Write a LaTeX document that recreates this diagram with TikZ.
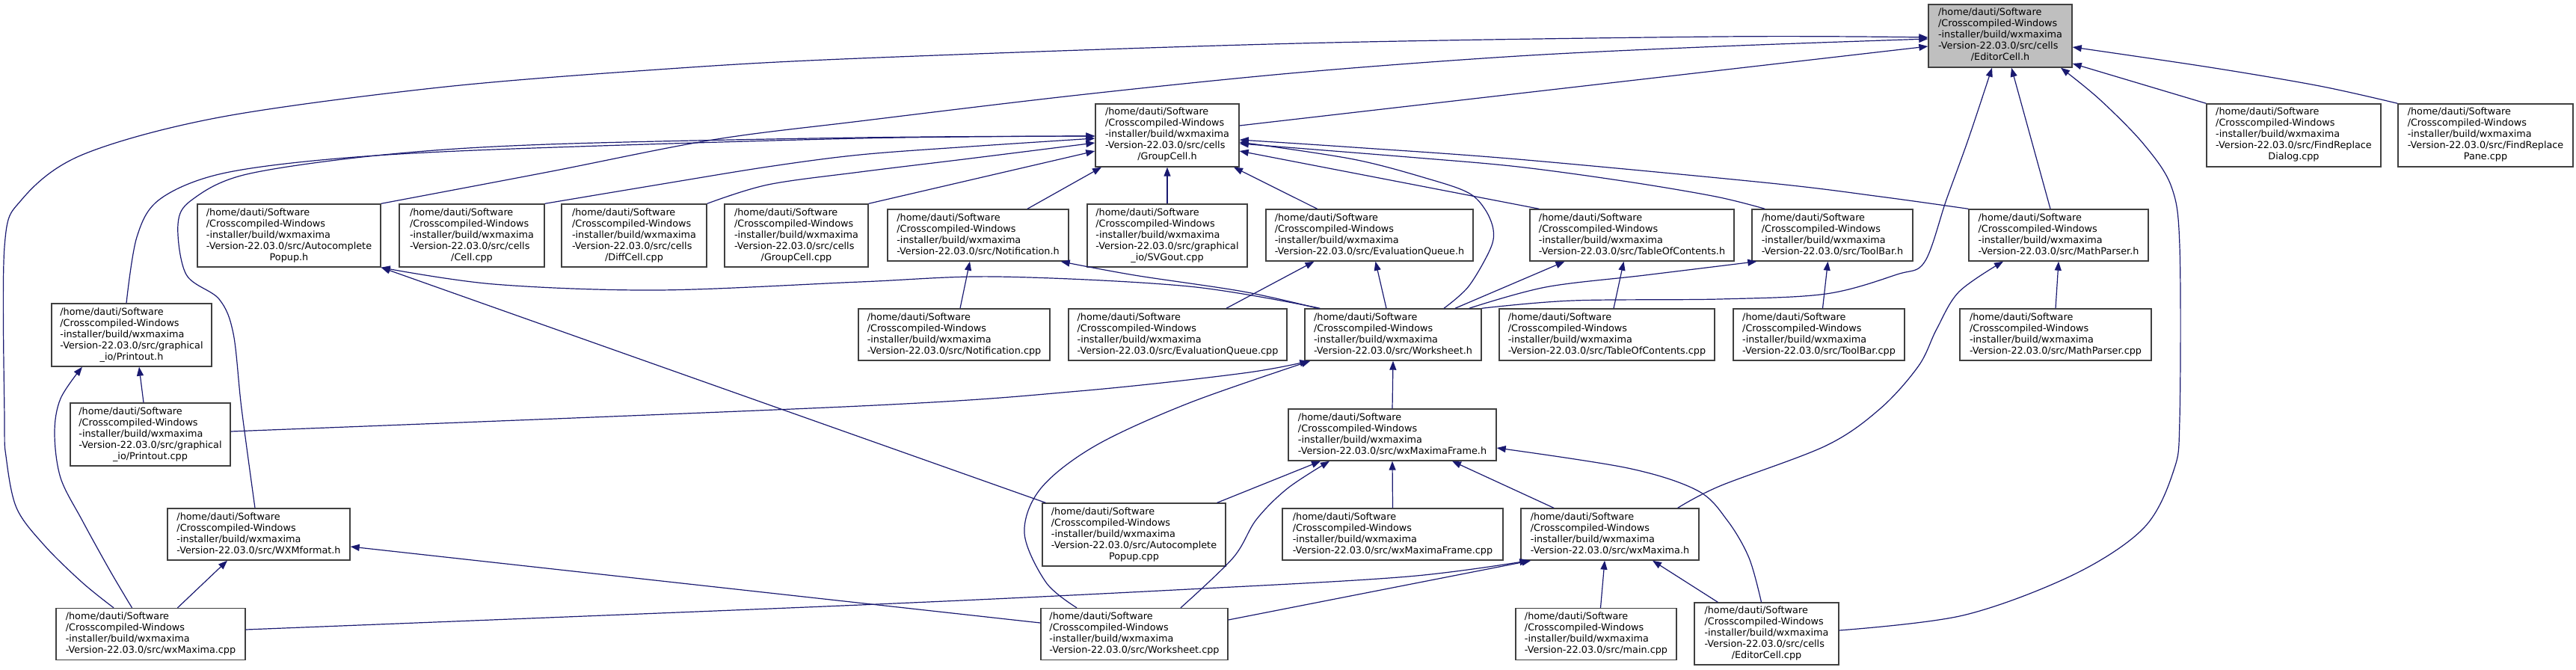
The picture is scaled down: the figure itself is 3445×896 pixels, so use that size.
\documentclass[tikz,border=0pt]{standalone}
\usepackage{fontspec}
\setmainfont{DejaVu Sans}
\usetikzlibrary{arrows.meta}
\definecolor{edgeblue}{HTML}{191970}
\definecolor{boxline}{HTML}{404040}
\definecolor{rootfill}{HTML}{BFBFBF}
\newcommand{\fourline}[1]{\begin{tabular}{@{}l@{}}/home/dauti/Software\\/Crosscompiled-Windows\\-installer/build/wxmaxima\\-Version-22.03.0/src/#1\end{tabular}}
\newcommand{\fiveline}[2]{\begin{tabular}{@{}l@{}}/home/dauti/Software\\/Crosscompiled-Windows\\-installer/build/wxmaxima\\-Version-22.03.0/src/#1\\\multicolumn{1}{@{}c@{}}{#2}\end{tabular}}
\begin{document}
\begin{tikzpicture}[x=1pt,y=-1pt,
  file/.style={draw=boxline,line width=1.4pt,fill=white,inner sep=0pt,
    font=\fontsize{12.8}{15}\selectfont},
  four/.style={file,minimum height=69pt},
  five/.style={file,minimum height=84pt},
  incl/.style={draw=edgeblue,line width=1.2pt,-{Triangle[length=12pt,width=9pt]}},
  curve/.style={smooth,tension=0.55}]
  \useasboundingbox (0,0) rectangle (3445,896);

  % top row
  \node[five,fill=rootfill,minimum width=192pt] (edh) at (2675,48) {\fiveline{cells}{/EditorCell.h}};
  \node[five,minimum width=233pt] (frd) at (3067.5,181) {\fiveline{FindReplace}{Dialog.cpp}};
  \node[five,minimum width=234pt] (frp) at (3324,181) {\fiveline{FindReplace}{Pane.cpp}};
  \node[five,minimum width=192pt] (gch) at (1561,181) {\fiveline{cells}{/GroupCell.h}};

  % second row
  \node[five,minimum width=245pt] (acph) at (386.5,315) {\fiveline{Autocomplete}{Popup.h}};
  \node[five,minimum width=194pt] (cellcpp) at (631,315) {\fiveline{cells}{/Cell.cpp}};
  \node[five,minimum width=194pt] (diffcpp) at (848,315) {\fiveline{cells}{/DiffCell.cpp}};
  \node[five,minimum width=192pt] (gccpp) at (1065,315) {\fiveline{cells}{/GroupCell.cpp}};
  \node[four,minimum width=242pt] (noth) at (1308,314.5) {\fourline{Notification.h}};
  \node[five,minimum width=214pt] (svgcpp) at (1561,315) {\fiveline{graphical}{\_io/SVGout.cpp}};
  \node[four,minimum width=277pt] (evqh) at (1831.5,314.5) {\fourline{EvaluationQueue.h}};
  \node[four,minimum width=273pt] (toch) at (2182.5,314.5) {\fourline{TableOfContents.h}};
  \node[four,minimum width=215pt] (tbh) at (2450.5,314.5) {\fourline{ToolBar.h}};
  \node[four,minimum width=240pt] (mph) at (2753,314.5) {\fourline{MathParser.h}};

  % third row
  \node[five,minimum width=214pt] (printh) at (176,448) {\fiveline{graphical}{\_io/Printout.h}};
  \node[four,minimum width=256pt] (notcpp) at (1276,447.5) {\fourline{Notification.cpp}};
  \node[four,minimum width=292pt] (evqcpp) at (1575,447.5) {\fourline{EvaluationQueue.cpp}};
  \node[four,minimum width=236pt] (wsh) at (1863,447.5) {\fourline{Worksheet.h}};
  \node[four,minimum width=288pt] (toccpp) at (2149,447.5) {\fourline{TableOfContents.cpp}};
  \node[four,minimum width=229pt] (tbcpp) at (2432.5,447.5) {\fourline{ToolBar.cpp}};
  \node[four,minimum width=256pt] (mpcpp) at (2749,447.5) {\fourline{MathParser.cpp}};

  % lower rows
  \node[five,minimum width=214pt] (printcpp) at (201,581) {\fiveline{graphical}{\_io/Printout.cpp}};
  \node[four,minimum width=278pt] (wxfh) at (1862,581.5) {\fourline{wxMaximaFrame.h}};
  \node[four,minimum width=244pt] (wxmfh) at (346,714.5) {\fourline{WXMformat.h}};
  \node[five,minimum width=245pt] (acpcpp) at (1516.5,715) {\fiveline{Autocomplete}{Popup.cpp}};
  \node[four,minimum width=295pt] (wxfcpp) at (1862.5,714.5) {\fourline{wxMaximaFrame.cpp}};
  \node[four,minimum width=238pt] (wxmh) at (2153,714.5) {\fourline{wxMaxima.h}};
  \node[four,minimum width=253pt] (wxmcpp) at (201.5,848) {\fourline{wxMaxima.cpp}};
  \node[four,minimum width=250pt] (wscpp) at (1517,848) {\fourline{Worksheet.cpp}};
  \node[four,minimum width=215pt] (maincpp) at (2134.5,848) {\fourline{main.cpp}};
  \node[five,minimum width=193pt,minimum height=83pt] (edcpp) at (2362.5,847.5) {\fiveline{cells}{/EditorCell.cpp}};

  % includes of EditorCell.h
  \draw[incl] plot[curve] coordinates {([xshift=-49.5pt]wxmcpp.north) (110,779) (59,729) (22,679) (8,610) (6,560) (6,330) (29,267) (110,207) (293,157) (587,117) (880,93) (1150,78) (1737,58) (2300,49) ([yshift=-2pt]edh.west)};
  \draw[incl] plot[curve] coordinates {(acph.north east) (733,230) (953,187) (1150,162) (1443,127) (1737,97) (2030,75) (2300,62) ([yshift=-4pt]edh.west)};
  \draw[incl] ([yshift=13pt]gch.east) -- ([yshift=-14pt]edh.west);
  \draw[incl] plot[curve] coordinates {(wsh.north east) (2103,402) (2300,400) (2442,393) (2537,367) (2574,350) (2603,267) (2632,187) ([xshift=-11pt]edh.south)};
  \draw[incl] ([xshift=-11pt]mph.north) -- ([xshift=15pt]edh.south);
  \draw[incl] plot[curve] coordinates {([yshift=4.5pt]edcpp.east) (2625,823) (2772,769) (2867,706) (2907,629) (2915,560) (2915,330) (2904,250) (2867,193) (2808,133) ([xshift=81pt]edh.south)};
  \draw[incl] (frd.north west) -- ([yshift=-37pt]edh.east);
  \draw[incl] plot[curve] coordinates {(frp.north west) (3102,115) (2955,90) ([yshift=-15pt]edh.east)};

  % includes of GroupCell.h
  \draw[incl] plot[curve] coordinates {([xshift=-7pt]printh.north) (183,317) (213,267) (293,233) (440,213) (660,200) (1150,185) ([yshift=-1pt]gch.west)};
  \draw[incl] plot[curve] coordinates {([xshift=-5pt]wxmfh.north) (323,546) (312,446) (293,400) (249,367) (238,300) (257,267) (330,233) (513,207) (733,193) (1150,184) ([yshift=-1pt]gch.west)};
  \draw[incl] plot[curve] coordinates {(cellcpp.north east) (880,247) (1027,223) (1150,207) (1297,196) ([yshift=-4pt]gch.west)};
  \draw[incl] plot[curve] coordinates {(diffcpp.north east) (1027,247) (1150,230) (1297,212) ([yshift=-10pt]gch.west)};
  \draw[incl] (gccpp.north east) -- ([yshift=-21pt]gch.west);
  \draw[incl] ([xshift=66pt]noth.north) -- ([xshift=-88pt]gch.south);
  \draw[incl] (svgcpp.north) -- (gch.south);
  \draw[incl] ([xshift=-70pt]evqh.north) -- ([xshift=89pt]gch.south);
  \draw[incl] plot[curve] coordinates {(mph.north west) (2515,263) (2368,245) (2030,213) (1810,197) ([yshift=-6pt]gch.east)};
  \draw[incl] plot[curve] coordinates {([xshift=18pt]tbh.north west) (2295,263) (2177,243) (2030,223) (1883,210) ([yshift=-11pt]gch.east)};
  \draw[incl] ([xshift=13pt]toch.north west) -- ([yshift=-21pt]gch.east);
  \draw[incl] plot[curve] coordinates {([xshift=68pt]wsh.north) (1964,383) (1993,333) (1997,307) (1986,280) (1964,258) (1913,240) (1810,213) ([yshift=-9pt]gch.east)};

  % includes of Worksheet.h
  \draw[incl] plot[curve] coordinates {([xshift=21pt]wsh.north west) (1590,383) (1333,370) (1150,377) (880,388) (660,380) (acph.south east)};
  \draw[incl] plot[curve] coordinates {([xshift=18pt]wsh.north west) (1663,390) (1517,368) ([xshift=-11pt]noth.south east)};
  \draw[incl] ([xshift=-9pt]wsh.north) -- ([xshift=8pt]evqh.south);
  \draw[incl] ([xshift=83pt]wsh.north) -- ([xshift=-90pt]toch.south);
  \draw[incl] plot[curve] coordinates {([xshift=-17pt]wsh.north east) (2067,384) (2200,368) ([xshift=7pt]tbh.south west)};

  % sources and their headers
  \draw[incl] ([xshift=8pt]notcpp.north) -- ([xshift=-11pt]noth.south);
  \draw[incl] ([xshift=65pt]evqcpp.north) -- ([xshift=-74pt]evqh.south);
  \draw[incl] ([xshift=9pt]toccpp.north) -- ([xshift=-11pt]toch.south);
  \draw[incl] ([xshift=5pt]tbcpp.north) -- ([xshift=-6pt]tbh.south);
  \draw[incl] (mpcpp.north) -- (mph.south);
  \draw[incl] plot[curve] coordinates {([xshift=-29pt]wxmh.north east) (2300,650) (2442,596) (2515,546) (2566,489) (2590,440) (2620,390) ([xshift=-74pt]mph.south)};
  \draw[incl] ([xshift=-9pt]printcpp.north) -- ([xshift=10pt]printh.south);
  \draw[incl] plot[curve] coordinates {([xshift=-25pt]wxmcpp.north) (147,763) (110,696) (81,639) (73,579) (81,533) ([xshift=-66pt]printh.south)};
  \draw[incl] ([xshift=36pt]wxmcpp.north) -- ([xshift=-42pt]wxmfh.south);
  \draw[incl] plot[curve] coordinates {([yshift=4pt]printcpp.east) (1150,543) (1443,523) (1663,499) ([xshift=6pt]wsh.south west)};
  \draw[incl] ([xshift=5pt]acpcpp.north west) -- (acph.south east);
  \draw[incl] plot[curve] coordinates {([xshift=-77pt]wscpp.north) (1399,779) (1370,713) (1392,653) (1465,596) (1590,539) ([xshift=8pt]wsh.south west)};
  \draw[incl] (wxfh.north) -- (wsh.south);
  \draw[incl] ([xshift=-12pt]acpcpp.north east) -- ([xshift=-96pt]wxfh.south);
  \draw[incl] plot[curve] coordinates {([xshift=62pt]wscpp.north) (1649,746) (1680,695) (1722,653) ([xshift=-84pt]wxfh.south)};
  \draw[incl] (wxfcpp.north) -- (wxfh.south);
  \draw[incl] ([xshift=-75pt]wxmh.north) -- ([xshift=80pt]wxfh.south);
  \draw[incl] plot[curve] coordinates {([xshift=-7pt]edcpp.north) (2339,746) (2310,696) (2270,656) (2177,626) ([yshift=-17.5pt]wxfh.east)};
  \draw[incl] ([xshift=6pt]maincpp.north) -- ([xshift=-7pt]wxmh.south);
  \draw[incl] ([xshift=32pt]edcpp.north west) -- ([xshift=57pt]wxmh.south);
  \draw[incl] ([yshift=19pt]wscpp.east) -- ([xshift=14pt]wxmh.south west);
  \draw[incl] plot[curve] coordinates {([yshift=6pt]wxmcpp.east) (1150,809) (1590,788) (1883,771) ([xshift=11pt]wxmh.south west)};
  \draw[incl] ([yshift=15pt]wscpp.west) -- ([yshift=-16.5pt]wxmfh.east);
\end{tikzpicture}
\end{document}
